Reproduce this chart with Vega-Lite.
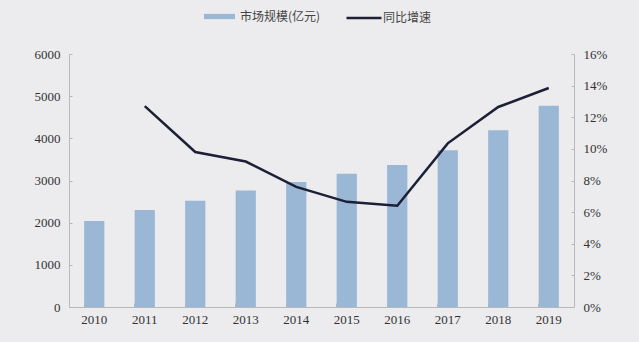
{
  "$schema": "https://vega.github.io/schema/vega-lite/v6.json",
  "autosize": "none",
  "width": 505,
  "height": 253,
  "padding": {"left": 69, "top": 54, "right": 65, "bottom": 35},
  "background": "#ececee",
  "config": {
    "view": {"stroke": null},
    "font": "Liberation Serif",
    "axis": {"labelFont": "Liberation Serif", "labelFontSize": 13, "labelColor": "#333333", "domainColor": "#b8b8b8", "tickColor": "#b8b8b8", "grid": false, "title": null}
  },
  "data": {"values": [
    {"year": "2010", "size": 2040, "growth": null},
    {"year": "2011", "size": 2300, "growth": 0.127},
    {"year": "2012", "size": 2520, "growth": 0.098},
    {"year": "2013", "size": 2760, "growth": 0.092},
    {"year": "2014", "size": 2965, "growth": 0.076},
    {"year": "2015", "size": 3160, "growth": 0.0665},
    {"year": "2016", "size": 3370, "growth": 0.064},
    {"year": "2017", "size": 3720, "growth": 0.1035},
    {"year": "2018", "size": 4190, "growth": 0.1265},
    {"year": "2019", "size": 4770, "growth": 0.1385}
  ]},
  "encoding": {
    "x": {"field": "year", "type": "nominal", "sort": null,
      "scale": {"paddingInner": 0.6, "paddingOuter": 0.3},
      "axis": {"labelAngle": 0, "bandPosition": 0, "tickSize": -4, "labelPadding": 10, "domainWidth": 1}}
  },
  "layer": [
    {
      "mark": {"type": "bar", "color": "#9ab7d5"},
      "encoding": {
        "y": {"field": "size", "type": "quantitative", "scale": {"domain": [0, 6000]},
          "axis": {"values": [0,1000,2000,3000,4000,5000,6000], "tickSize": -3, "labelPadding": 12, "format": "d"}},
        "fill": {"datum": "市场规模(亿元)", "type": "nominal",
          "scale": {"range": ["#9ab7d5"]},
          "legend": {"orient": "none", "legendX": 135, "legendY": -53, "title": null,
            "symbolType": "M-1,-0.17H1V0.17H-1Z", "symbolSize": 961, "symbolStrokeWidth": 0,
            "labelFont": "Noto Sans CJK SC", "labelFontSize": 12, "labelColor": "#444444", "labelOffset": 5}}
      }
    },
    {
      "mark": {"type": "line", "color": "#1c1f35", "strokeWidth": 2.5},
      "encoding": {
        "y": {"field": "growth", "type": "quantitative", "scale": {"domain": [0, 0.16]},
          "axis": {"orient": "right", "values": [0,0.02,0.04,0.06,0.08,0.1,0.12,0.14,0.16], "format": ".0%", "tickSize": -3, "labelPadding": 12}},
        "stroke": {"datum": "同比增速", "type": "nominal",
          "scale": {"range": ["#1c1f35"]},
          "legend": {"orient": "none", "legendX": 276, "legendY": -55, "title": null,
            "symbolType": "M-1,0H1", "symbolSize": 1225, "symbolStrokeWidth": 2.5,
            "labelFont": "Noto Sans CJK SC", "labelFontSize": 12, "labelColor": "#444444", "labelOffset": 0}}
      }
    }
  ],
  "resolve": {"scale": {"y": "independent", "fill": "independent", "stroke": "independent"}}
}
